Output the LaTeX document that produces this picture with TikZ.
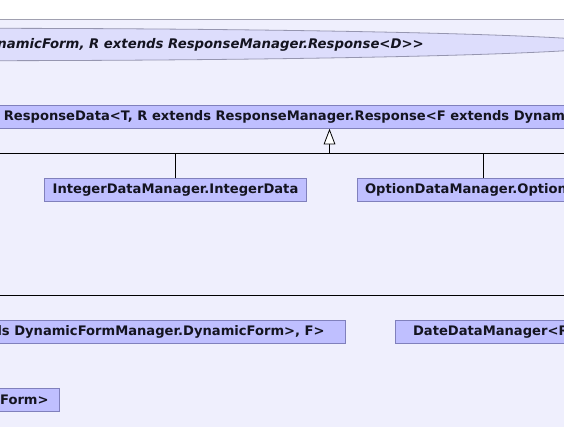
\documentclass[tikz,border=0pt]{standalone}
\usepackage{fontspec}
\setsansfont{DejaVu Sans}
\usetikzlibrary{positioning,shapes.geometric,arrows.meta}

\definecolor{clusterbg}{RGB}{239,239,253}
\definecolor{clusterline}{RGB}{160,160,176}
\definecolor{tmplfill}{RGB}{221,221,252}
\definecolor{tmplline}{RGB}{150,150,176}
\definecolor{boxfill}{RGB}{191,191,255}
\definecolor{boxline}{RGB}{128,128,188}
\definecolor{textdark}{RGB}{20,20,32}

\tikzset{
  classbox/.style={rectangle,draw=boxline,fill=boxfill,line width=0.8pt,minimum height=23.3pt,inner ysep=0pt,
    text=textdark,font=\sffamily\bfseries\fontsize{13.1}{15}\selectfont},
  tmplshape/.style={ellipse,draw=tmplline,fill=tmplfill,line width=0.8pt,inner sep=0pt},
  inherit/.style={-{Triangle[open,fill=white,length=15.7pt,width=11.7pt]},line width=0.8pt},
}

\begin{document}
\begin{tikzpicture}[x=1pt,y=-1pt]
  \useasboundingbox (0,0) rectangle (564,427);
  \clip (0,0) rectangle (564,427);
  \fill[clusterbg] (-5,19.3) rectangle (570,432);
  \draw[clusterline,line width=0.8pt] (-5,19.3)--(570,19.3);
  % template class
  \node[tmplshape,minimum width=1294pt,minimum height=32.4pt] (respmgr) at (-32,44.5) {};
  \node[anchor=east,inner sep=0pt,text=textdark,font=\sffamily\bfseries\itshape\fontsize{13.25}{15}\selectfont] (respmgrname) at (424,45) {DynamicForm, R extends ResponseManager.Response<D>\kern0pt>};
  % base and subclasses
  \node[classbox,anchor=west,inner xsep=23.5pt] (rdata) at (-20,116.7) {ResponseData<T, R extends ResponseManager.Response<F extends Dynam};
  \coordinate (barL) at (-5,153.3);
  \coordinate (barR) at (570,153.3);
  \coordinate (bar) at (329.5,153.3);
  \draw[line width=0.8pt] (barL)--(barR);
  \draw[inherit] (bar)--(bar |- rdata.south);
  \node[classbox,anchor=west,inner xsep=8.3pt] (intdata) at (44,189.8) {IntegerDataManager.IntegerData};
  \node[classbox,anchor=west,inner xsep=8.2pt] (optdata) at (356.5,189.8) {OptionDataManager.OptionData};
  \draw[line width=0.8pt] (intdata.north |- bar)--(intdata.north);
  \draw[line width=0.8pt] (optdata.north |- bar)--(optdata.north);
  % lower row
  \coordinate (lowL) at (-5,295);
  \coordinate (lowR) at (570,295);
  \draw[line width=0.8pt] (lowL)--(lowR);
  \node[classbox,anchor=east,inner xsep=20.5pt] (dynform) at (345.5,331.7) {ds DynamicFormManager.DynamicForm>, F>};
  \node[classbox,anchor=west,inner xsep=17.7pt] (datedata) at (395,331.7) {DateDataManager<R};
  \node[classbox,anchor=east,inner xsep=11pt] (formbox) at (60,400) {Form>};
\end{tikzpicture}
\end{document}
